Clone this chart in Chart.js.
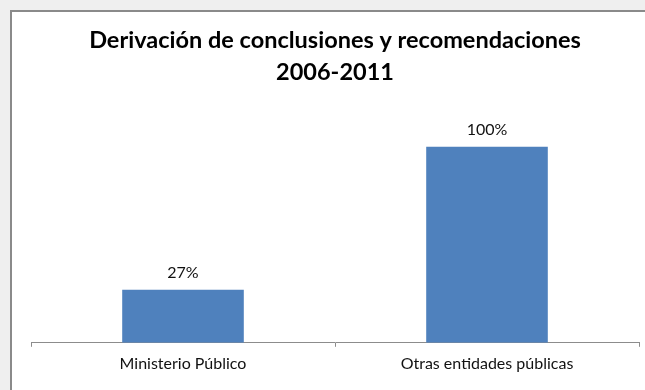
<!DOCTYPE html>
<html>
<head>
  <meta charset="utf-8">
  <title>Derivación de conclusiones y recomendaciones</title>
  <script src="https://cdn.jsdelivr.net/npm/chart.js"></script>
  <style>
    html, body { margin: 0; padding: 0; background: #efefef; overflow: hidden; }
    #box {
      position: absolute; left: 10px; top: 10px;
      width: 640px; height: 390px;
      border-left: 2px solid #8a8a8a; border-top: 2px solid #8a8a8a;
      background: #ffffff;
    }
    #chartWrap { position: absolute; left: 0; top: 0; width: 633px; height: 378px; }
  </style>
</head>
<body>
<div id="box">
  <div id="chartWrap"><canvas id="derivChart"></canvas></div>
</div>

<script>
  // data
  const categories = ["Ministerio Público", "Otras entidades públicas"];
  const percentValues = [27, 100];
  const titleLines = ["Derivación de conclusiones y recomendaciones", "2006-2011"];

  // simple value labels above each bar (no datalabels plugin offline)
  const barLabels = {
    id: "barLabels",
    afterDatasetsDraw(chart) {
      const ctx = chart.ctx;
      const meta = chart.getDatasetMeta(0);
      ctx.save();
      ctx.font = "16px Lato";
      ctx.fillStyle = "#111111";
      ctx.textAlign = "center";
      ctx.textBaseline = "alphabetic";
      meta.data.forEach((bar, i) => {
        ctx.fillText(percentValues[i] + "%", bar.x, bar.y - 12);
      });
      ctx.restore();
    }
  };

  const ctx = document.getElementById("derivChart").getContext("2d");

  new Chart(ctx, {
    type: "bar",
    data: {
      labels: categories,
      datasets: [{
        data: percentValues,
        backgroundColor: "#4F81BD",
        borderWidth: 0,
        barPercentage: 0.8,
        categoryPercentage: 0.5
      }]
    },
    options: {
      responsive: true,
      maintainAspectRatio: false,
      animation: false,
      layout: {
        padding: { left: 19, right: 6, top: 0, bottom: 10 }
      },
      plugins: {
        legend: { display: false },
        tooltip: { enabled: false },
        title: {
          display: true,
          text: titleLines,
          color: "#000000",
          font: { family: "Lato", size: 23.5, weight: "bold", lineHeight: 1.37 },
          padding: { top: 12, bottom: 19 }
        }
      },
      scales: {
        x: {
          offset: true,
          grid: {
            display: true,
            offset: true,
            drawOnChartArea: false,
            drawTicks: true,
            tickLength: 4,
            color: "#8c8c8c"
          },
          border: { display: true, color: "#8c8c8c", width: 1 },
          ticks: {
            color: "#111111",
            font: { family: "Lato", size: 16 },
            padding: 7
          }
        },
        y: {
          display: false,
          min: 0,
          max: 120
        }
      }
    },
    plugins: [barLabels]
  });
</script>
</body>
</html>
